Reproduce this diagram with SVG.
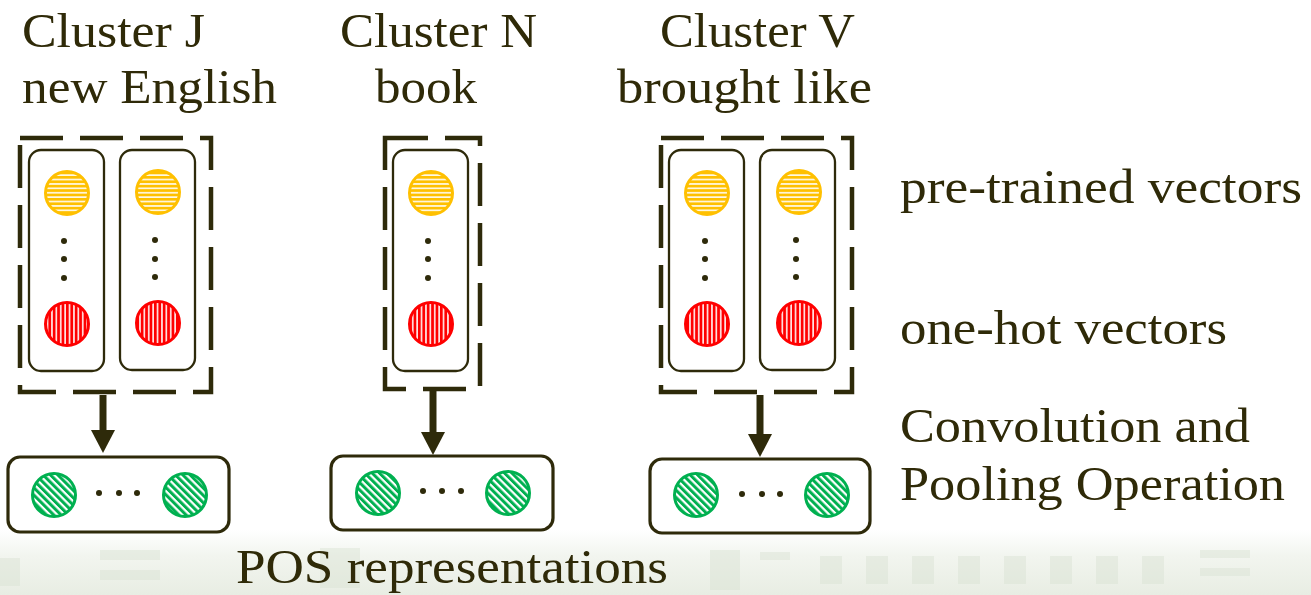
<svg xmlns="http://www.w3.org/2000/svg" width="1311" height="595" viewBox="0 0 1311 595">
<style>
.t{font-family:"Liberation Serif","DejaVu Serif",serif;font-size:48px;fill:#2f2a08}
.dash{fill:none;stroke:#2e2a0a;stroke-width:4.5;stroke-dasharray:43 17}
.col{fill:#fff;stroke:#2e2a0a;stroke-width:2.3}
.out{fill:#fff;stroke:#2e2a0a;stroke-width:3.2}
.y{fill:url(#py);stroke:#ffc000;stroke-width:3}
.r{fill:url(#pr);stroke:#ff0000;stroke-width:3}
.g{fill:url(#pg);stroke:#00b050;stroke-width:3}
.d{fill:#2e2a0a}
.sh{stroke:#2e2a0a;stroke-width:7}
.ah{fill:#2e2a0a}
</style>
<defs>
<pattern id="py" patternUnits="userSpaceOnUse" width="4.4" height="4.4"><rect width="4.4" height="4.4" fill="#ffc000"/><rect y="2.8" width="4.4" height="1.5" fill="#fff"/></pattern>
<pattern id="pr" patternUnits="userSpaceOnUse" width="4.4" height="4.4"><rect width="4.4" height="4.4" fill="#ff0000"/><rect x="2.8" width="1.5" height="4.4" fill="#fff"/></pattern>
<pattern id="pg" patternUnits="userSpaceOnUse" width="5.2" height="5.2" patternTransform="rotate(-45)"><rect width="5.2" height="5.2" fill="#00b050"/><rect x="3" width="2.2" height="5.2" fill="#fff"/></pattern>
<linearGradient id="bg" x1="0" y1="0" x2="0" y2="1"><stop offset="0" stop-color="#fff"/><stop offset="0.4" stop-color="#f2f5ef"/><stop offset="1" stop-color="#e8ede3"/></linearGradient>
</defs>
<rect width="1311" height="595" fill="#fff"/>
<g id="background">
<rect x="0" y="530" width="1311" height="65" fill="url(#bg)"/>
<g fill="#d9e2d3" opacity="0.45">
<rect x="100" y="550" width="60" height="10"/><rect x="100" y="570" width="60" height="10"/>
<rect x="320" y="548" width="40" height="40"/><rect x="760" y="552" width="30" height="8"/>
<rect x="820" y="556" width="22" height="28"/><rect x="866" y="556" width="22" height="28"/>
<rect x="912" y="556" width="22" height="28"/><rect x="958" y="556" width="22" height="28"/>
<rect x="1004" y="556" width="22" height="28"/><rect x="1050" y="556" width="22" height="28"/>
<rect x="1096" y="556" width="22" height="28"/><rect x="1142" y="556" width="22" height="28"/>
<rect x="1200" y="550" width="50" height="8"/><rect x="1200" y="568" width="50" height="8"/>
<rect x="0" y="558" width="20" height="28"/><rect x="710" y="550" width="30" height="40"/>
</g>
</g>

<g id="labels">
<text class="t" x="22" y="47" textLength="183" lengthAdjust="spacingAndGlyphs">Cluster J</text>
<text class="t" x="22" y="103" textLength="255" lengthAdjust="spacingAndGlyphs">new English</text>
<text class="t" x="340" y="47" textLength="197" lengthAdjust="spacingAndGlyphs">Cluster N</text>
<text class="t" x="375" y="103" textLength="102" lengthAdjust="spacingAndGlyphs">book</text>
<text class="t" x="660" y="47" textLength="195" lengthAdjust="spacingAndGlyphs">Cluster V</text>
<text class="t" x="617" y="103" textLength="255" lengthAdjust="spacingAndGlyphs">brought like</text>
<text class="t" x="900" y="203" textLength="402" lengthAdjust="spacingAndGlyphs">pre-trained vectors</text>
<text class="t" x="900" y="344" textLength="327" lengthAdjust="spacingAndGlyphs">one-hot vectors</text>
<text class="t" x="900" y="442" textLength="350" lengthAdjust="spacingAndGlyphs">Convolution and</text>
<text class="t" x="900" y="500" textLength="385" lengthAdjust="spacingAndGlyphs">Pooling Operation</text>
<text class="t" x="236" y="583" textLength="432" lengthAdjust="spacingAndGlyphs">POS representations</text>
</g>

<g id="clusterJ">
<rect class="dash" x="20" y="138" width="191" height="254"/>
<rect class="col" x="29" y="150" width="75" height="221" rx="12"/>
<circle class="y" cx="67" cy="193" r="21.5"/>
<circle class="d" cx="64" cy="241" r="3"/><circle class="d" cx="64" cy="259" r="3"/><circle class="d" cx="64" cy="278" r="3"/>
<circle class="r" cx="67" cy="324" r="21.5"/>
<rect class="col" x="120" y="150" width="75" height="220" rx="12"/>
<circle class="y" cx="158" cy="192" r="21.5"/>
<circle class="d" cx="155" cy="240" r="3"/><circle class="d" cx="155" cy="259" r="3"/><circle class="d" cx="155" cy="277" r="3"/>
<circle class="r" cx="158" cy="323" r="21.5"/>
</g>

<g id="clusterN">
<rect class="dash" x="385" y="138" width="95" height="251"/>
<rect class="col" x="393" y="150" width="75" height="221" rx="12"/>
<circle class="y" cx="431" cy="193" r="21.5"/>
<circle class="d" cx="428" cy="241" r="3"/><circle class="d" cx="428" cy="259" r="3"/><circle class="d" cx="428" cy="278" r="3"/>
<circle class="r" cx="431" cy="324" r="21.5"/>
</g>

<g id="clusterV">
<rect class="dash" x="661" y="138" width="191" height="254"/>
<rect class="col" x="669" y="150" width="75" height="221" rx="12"/>
<circle class="y" cx="707" cy="193" r="21.5"/>
<circle class="d" cx="705" cy="241" r="3"/><circle class="d" cx="705" cy="259" r="3"/><circle class="d" cx="705" cy="278" r="3"/>
<circle class="r" cx="707" cy="324" r="21.5"/>
<rect class="col" x="760" y="150" width="75" height="220" rx="12"/>
<circle class="y" cx="799" cy="192" r="21.5"/>
<circle class="d" cx="796" cy="240" r="3"/><circle class="d" cx="796" cy="259" r="3"/><circle class="d" cx="796" cy="277" r="3"/>
<circle class="r" cx="799" cy="323" r="21.5"/>
</g>

<g id="posJ">
<rect class="out" x="8" y="457" width="221" height="75" rx="12"/>
<circle class="g" cx="54" cy="495" r="21.5"/>
<circle class="d" cx="99" cy="493" r="3"/><circle class="d" cx="119" cy="493" r="3"/><circle class="d" cx="137" cy="493" r="3"/>
<circle class="g" cx="185" cy="495" r="21.5"/>
</g>

<g id="posN">
<rect class="out" x="331" y="456" width="222" height="74" rx="12"/>
<circle class="g" cx="378" cy="493" r="21.5"/>
<circle class="d" cx="423" cy="491" r="3"/><circle class="d" cx="442" cy="491" r="3"/><circle class="d" cx="461" cy="491" r="3"/>
<circle class="g" cx="508" cy="493" r="21.5"/>
</g>

<g id="posV">
<rect class="out" x="650" y="459" width="220" height="74" rx="12"/>
<circle class="g" cx="696" cy="495" r="21.5"/>
<circle class="d" cx="742" cy="494" r="3"/><circle class="d" cx="762" cy="494" r="3"/><circle class="d" cx="780" cy="494" r="3"/>
<circle class="g" cx="827" cy="495" r="21.5"/>
</g>

<g id="connectors">
<line class="sh" x1="103" y1="395" x2="103" y2="432"/>
<polygon class="ah" points="91,430 115,430 103,453"/>
<line class="sh" x1="433" y1="391" x2="433" y2="434"/>
<polygon class="ah" points="421,432 445,432 433,455"/>
<line class="sh" x1="760" y1="395" x2="760" y2="436"/>
<polygon class="ah" points="748,434 772,434 760,457"/>
</g>
</svg>
